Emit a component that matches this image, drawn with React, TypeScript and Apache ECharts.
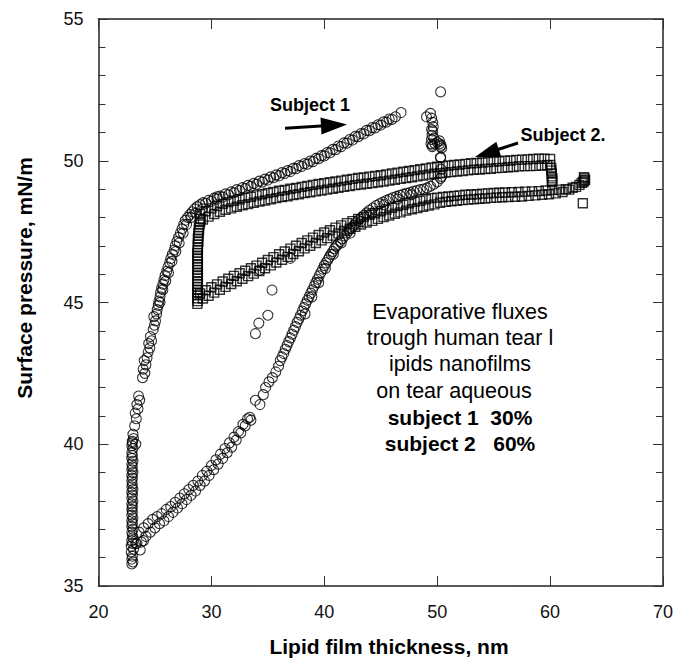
import React, { useEffect, useRef } from "react";
import * as echarts from "echarts";

// ---- Axis settings ----
const X_MIN = 20, X_MAX = 70, X_STEP = 10;
const Y_MIN = 35, Y_MAX = 55, Y_STEP = 5;
const X_TITLE = "Lipid film thickness, nm";
const Y_TITLE = "Surface pressure, mN/m";
const NOTE_LINES = ["Evaporative fluxes", "trough human tear l", "ipids nanofilms", "on tear aqueous"];
const NOTE_BOLD = ["subject 1  30%", "subject 2   60%"];
const LABEL_S1 = "Subject 1";
const LABEL_S2 = "Subject 2.";

// ---- Subject 1 (circles) ----
const s1Vertical = [
  [23.0,40.1],[22.95,39.95],[23.05,39.85],[22.95,39.7],[23.0,39.6],[22.95,39.5],[23.05,39.4],[22.95,39.3],[23.0,39.2],[22.95,39.1],
  [23.05,39.0],[22.95,38.9],[23.0,38.8],[22.95,38.7],[23.0,38.6],[22.95,38.5],[23.05,38.4],[22.95,38.3],[23.0,38.2],[22.95,38.1],
  [23.05,38.0],[22.95,37.9],[23.0,37.8],[22.95,37.7],[23.0,37.6],[22.95,37.5],[23.05,37.4],[22.95,37.3],[23.0,37.2],[22.95,37.1],
  [23.05,37.0],[22.95,36.9],[23.0,36.8],[23.05,36.7],[22.95,36.6],[23.0,36.5],[22.9,36.4],[23.1,36.3],[22.9,36.2],[23.0,36.05],
  [22.95,35.95],[23.05,35.85],[22.95,35.78],[23.4,36.5],[23.7,36.27],[23.98,36.6]
];
const s1Upper = [
  [23.0,40.05],[23.1,40.2],[23.3,40.0],[23.05,40.35],
  [23.2,40.65],[23.35,40.9],[23.25,41.1],[23.5,41.25],[23.4,41.4],[23.65,41.55],[23.55,41.7],
  [23.9,42.35],[24.1,42.5],[23.95,42.65],[24.2,42.8],[24.05,42.95],[24.3,43.05],
  [24.4,43.25],[24.55,43.4],[24.45,43.55],[24.7,43.65],[24.6,43.8],
  [24.85,44.05],[24.95,44.2],[25.05,44.35],[24.9,44.5],[25.15,44.6],
  [25.2,44.75],[25.3,44.9],[25.35,45.05],[25.45,45.2],[25.5,45.35],[25.6,45.5],[25.7,45.65],[25.8,45.8],[25.9,45.95],[26.05,46.1],
  [26.15,46.25],[26.3,46.4],[26.4,46.55],[26.55,46.7],[26.7,46.85],[26.8,47.0],[26.95,47.15],[27.1,47.3],[27.25,47.45],[27.4,47.6],
  [27.55,47.75],[27.7,47.9],[27.9,48.0],[28.1,48.1],[28.3,48.2],[28.5,48.3],[28.75,48.38],
  [25.45,45.0],[25.7,45.45],[25.95,45.75],[26.2,46.05],[26.5,46.45],[26.85,46.8],[27.15,47.1],[27.5,47.45],[27.8,47.75],[28.2,48.0],
  [28.6,48.15],[29.2,48.3],
  [29.0,48.45],[29.25,48.52],[29.5,48.5],[29.75,48.6],[30.0,48.57],[30.25,48.68],[30.5,48.65],[30.75,48.75],[31.0,48.72],[31.25,48.83],
  [31.5,48.8],[31.75,48.9],[32.0,48.87],[32.25,48.98],[32.5,48.95],[32.75,49.05],[33.0,49.02],[33.25,49.13],[33.5,49.1],[33.75,49.2],
  [34.0,49.17],[34.25,49.28],[34.5,49.25],[34.75,49.35],[35.0,49.32],[35.25,49.43],[35.5,49.4],[35.75,49.5],[36.0,49.47],[36.25,49.58],
  [36.5,49.55],[36.75,49.65],[37.0,49.62],[37.25,49.73],[37.5,49.72],[37.75,49.83],[38.0,49.8],[38.25,49.9],[38.5,49.88],[38.75,49.99],
  [39.0,49.97],[39.25,50.08],[39.5,50.07],[39.75,50.18],[40.0,50.17],[40.25,50.29],[40.5,50.28],[40.75,50.4],[41.0,50.39],[41.25,50.52],
  [41.5,50.5],[41.75,50.63],[42.0,50.62],[42.25,50.75],[42.5,50.73],[42.75,50.86],[43.0,50.85],[43.25,50.96],[43.5,50.95],[43.75,51.07],
  [44.0,51.06],[44.25,51.17],[44.5,51.16],[44.75,51.27],[45.0,51.26],[45.25,51.37],[45.5,51.36],[45.75,51.47],[46.0,51.46],[46.3,51.55],
  [46.8,51.7],[30.5,48.73]
];
const s1Lower = [
  [23.3,36.5],[23.6,36.9],[23.8,36.55],[24.0,37.05],[24.2,36.75],[24.4,37.2],[24.6,36.9],[24.8,37.35],[25.0,37.05],[25.2,37.45],
  [25.4,37.2],[25.6,37.55],[25.8,37.3],[26.0,37.7],[26.2,37.45],[26.4,37.8],[26.6,37.6],[26.8,37.95],[27.0,37.75],[27.2,38.1],
  [27.4,37.9],[27.6,38.25],[27.8,38.05],[28.0,38.4],[28.2,38.2],[28.4,38.55],[28.6,38.35],[28.8,38.7],[29.0,38.55],[29.2,38.9],
  [29.4,38.7],[29.6,39.05],[29.8,38.9],[30.0,39.25],[30.2,39.1],[30.4,39.45],[30.6,39.3],[30.8,39.65],[31.0,39.5],[31.2,39.85],
  [31.4,39.7],[31.6,40.05],[31.8,39.9],[32.0,40.25],[32.2,40.15],[32.4,40.45],[32.6,40.4],[32.8,40.7],[33.0,40.65],[33.2,40.9],
  [33.4,40.95],[33.5,40.85],
  [33.9,41.55],[34.3,41.4],[34.6,41.75],[34.8,42.0],[35.1,42.2],[35.4,42.35],[35.7,42.55],[35.95,42.75],
  [36.1,42.95],[36.25,43.08],[36.4,43.2],[36.55,43.35],[36.7,43.48],[36.85,43.62],[37.0,43.75],[37.15,43.88],[37.3,44.02],[37.45,44.15],
  [37.6,44.3],[37.75,44.42],[37.9,44.55],[38.05,44.7],[38.2,44.82],[38.35,44.95],[38.5,45.08],[38.65,45.2],[38.8,45.33],[38.95,45.45],
  [39.1,45.58],[39.25,45.7],[39.4,45.82],[39.55,45.94],[39.7,46.06],[39.85,46.18],[40.0,46.3],[40.15,46.4],[40.3,46.5],[40.45,46.6],
  [40.6,46.7],[40.75,46.8],[40.9,46.9],[41.05,46.98],[41.2,47.05],[41.4,47.15],[41.6,47.25],[41.8,47.35],[42.0,47.45],[42.2,47.55],
  [42.4,47.63],[42.6,47.72],[42.8,47.8],[43.0,47.9],[43.25,47.98],[43.5,48.07],[43.75,48.16],[44.0,48.25],[44.3,48.33],[44.6,48.42],
  [44.9,48.48],[45.2,48.54],[45.5,48.6],[45.8,48.65],[46.1,48.7],[46.4,48.74],[46.7,48.78],[47.0,48.82],[47.3,48.85],[47.6,48.88],
  [47.9,48.92],[48.2,48.95],[48.5,48.98],[48.8,49.0],[49.1,49.04],[49.4,49.1],[49.7,49.17],[50.0,49.25],[50.3,49.38],[50.4,49.45],
  [50.35,49.7],[50.3,50.1],
  [38.3,44.6],[38.9,45.2],[39.5,45.7],[40.1,46.2],[40.8,46.7],[41.5,47.1],[42.3,47.45],[43.2,47.85],[44.2,48.15],[45.3,48.45],
  [46.5,48.65],[47.7,48.8]
];
const s1Stray = [[33.9,43.9],[34.2,44.27],[35.0,44.55],[35.37,45.44],[34.3,46.14],[37.0,46.56]];
const s1Cluster = [
  [49.4,51.67],[49.5,51.5],[49.05,51.55],[49.6,51.35],[49.65,51.2],[49.6,51.05],[49.55,50.9],[49.5,50.75],[49.45,50.6],[49.6,50.55],
  [49.8,50.6],[50.0,50.65],[50.2,50.6],[50.3,50.5],[50.4,50.45],[50.2,50.7],[49.7,50.8],[50.3,50.12],[50.3,52.43],[49.5,51.1],
  [49.55,50.5],[50.35,50.55]
];

// ---- Subject 2 (squares) ----
const s2Vertical = [
  [28.75,44.95],[28.8,45.05],[28.75,45.15],[28.8,45.25],[28.75,45.35],[28.8,45.45],[28.75,45.55],[28.8,45.65],[28.75,45.75],[28.8,45.85],
  [28.75,45.95],[28.8,46.05],[28.75,46.15],[28.8,46.25],[28.75,46.35],[28.8,46.45],[28.75,46.55],[28.8,46.65],[28.75,46.75],[28.8,46.85],
  [28.8,46.95],[28.8,47.05],[28.85,47.15],[28.8,47.25],[28.85,47.35],[28.85,47.45],[28.9,47.55],[28.9,47.65],[28.95,47.75],[29.0,47.85],
  [29.05,47.95]
];
const s2Upper = [
  [29.0,48.12],[29.25,47.93],[29.5,48.22],[29.75,48.03],[30.0,48.32],[30.25,48.12],[30.5,48.4],[30.75,48.2],
  [31.0,48.48],[31.25,48.27],[31.5,48.54],[31.75,48.32],[32.0,48.59],[32.25,48.38],[32.5,48.64],[32.75,48.43],
  [33.0,48.69],[33.25,48.47],[33.5,48.73],[33.75,48.52],[34.0,48.78],[34.25,48.56],[34.5,48.82],[34.75,48.6],
  [35.0,48.86],[35.25,48.64],[35.5,48.9],[35.75,48.68],[36.0,48.94],[36.25,48.72],[36.5,48.97],[36.75,48.75],
  [37.0,49.01],[37.25,48.79],[37.5,49.04],[37.75,48.82],[38.0,49.08],[38.25,48.86],[38.5,49.11],[38.75,48.89],
  [39.0,49.15],[39.25,48.92],[39.5,49.18],[39.75,48.95],[40.0,49.21],[40.25,48.98],[40.5,49.24],[40.75,49.01],
  [41.0,49.27],[41.25,49.05],[41.5,49.3],[41.75,49.08],[42.0,49.33],[42.25,49.11],[42.5,49.36],[42.75,49.14],
  [43.0,49.39],[43.25,49.16],[43.5,49.41],[43.75,49.19],[44.0,49.44],[44.25,49.21],[44.5,49.46],[44.75,49.24],
  [45.0,49.49],[45.25,49.27],[45.5,49.52],[45.75,49.3],[46.0,49.55],[46.25,49.33],[46.5,49.58],[46.75,49.36],
  [47.0,49.61],[47.25,49.39],[47.5,49.64],[47.75,49.42],[48.0,49.67],[48.25,49.45],[48.5,49.7],[48.75,49.48],
  [49.0,49.73],[49.25,49.51],[49.5,49.76],[49.75,49.54],[50.0,49.79],[50.25,49.56],[50.5,49.81],[50.75,49.58],
  [51.0,49.83],[51.25,49.6],[51.5,49.85],[51.75,49.62],[52.0,49.87],[52.25,49.64],[52.5,49.89],[52.75,49.66],
  [53.0,49.91],[53.25,49.68],[53.5,49.92],[53.75,49.69],[54.0,49.94],[54.25,49.71],[54.5,49.95],[54.75,49.72],
  [55.0,49.97],[55.25,49.74],[55.5,49.98],[55.75,49.75],[56.0,50.0],[56.25,49.77],[56.5,50.01],[56.75,49.78],
  [57.0,50.03],[57.25,49.8],[57.5,50.04],[57.75,49.81],[58.0,50.05],[58.25,49.81],[58.5,50.06],[58.75,49.82],
  [59.0,50.07],[59.25,49.83],[59.5,50.07],[59.75,49.84],[60.0,50.06],[60.0,49.85]
];
const s2Drop = [[60.1,49.75],[60.1,49.65],[60.15,49.55],[60.15,49.45],[60.2,49.38],[60.2,49.3],[60.15,49.25]];
const s2Lower = [
  [29.0,45.32],[29.25,45.14],[29.5,45.43],[29.75,45.24],[30.0,45.54],[30.25,45.35],[30.5,45.64],[30.75,45.45],
  [31.0,45.74],[31.25,45.55],[31.5,45.84],[31.75,45.65],[32.0,45.94],[32.25,45.75],[32.5,46.03],[32.75,45.84],
  [33.0,46.12],[33.25,45.93],[33.5,46.21],[33.75,46.02],[34.0,46.3],[34.25,46.11],[34.5,46.4],[34.75,46.21],
  [35.0,46.5],[35.25,46.31],[35.5,46.6],[35.75,46.41],[36.0,46.7],[36.25,46.51],[36.5,46.8],[36.75,46.61],
  [37.0,46.9],[37.25,46.71],[37.5,47.0],[37.75,46.81],[38.0,47.1],[38.25,46.91],[38.5,47.19],[38.75,47.0],
  [39.0,47.29],[39.25,47.1],[39.5,47.38],[39.75,47.19],[40.0,47.47],[40.25,47.27],[40.5,47.55],[40.75,47.36],
  [41.0,47.64],[41.25,47.44],[41.5,47.72],[41.75,47.52],[42.0,47.8],[42.25,47.6],[42.5,47.87],[42.75,47.67],
  [43.0,47.95],[43.25,47.75],[43.5,48.02],[43.75,47.82],[44.0,48.09],[44.25,47.88],[44.5,48.15],[44.75,47.95],
  [45.0,48.22],[45.25,48.01],[45.5,48.28],[45.75,48.07],[46.0,48.34],[46.25,48.13],[46.5,48.4],[46.75,48.18],
  [47.0,48.45],[47.25,48.24],[47.5,48.5],[47.75,48.29],[48.0,48.55],[48.25,48.33],[48.5,48.59],[48.75,48.38],
  [49.0,48.64],[49.25,48.42],[49.5,48.68],[49.75,48.46],[50.0,48.7],[50.25,48.52],[50.5,48.72],[50.75,48.55],
  [51.0,48.74],[51.25,48.57],[51.5,48.76],[51.75,48.59],[52.0,48.78],[52.25,48.61],[52.5,48.8],[52.75,48.63],
  [53.0,48.81],[53.25,48.64],[53.5,48.82],[53.75,48.66],[54.0,48.84],[54.25,48.67],[54.5,48.85],[54.75,48.69],
  [55.0,48.86],[55.25,48.7],[55.5,48.87],[55.75,48.71],[56.0,48.88],[56.3,48.72],[56.6,48.89],[56.9,48.73],
  [57.2,48.9],[57.5,48.74],[57.8,48.91],[58.1,48.76],[58.4,48.92],[58.7,48.78],[59.0,48.93],[59.3,48.8],
  [59.6,48.95],[59.9,48.82],[60.2,48.97],[60.5,48.85],[60.8,48.98],[61.1,48.9],[61.4,49.0],[61.7,48.98],
  [62.0,49.05],[62.3,49.08],[62.6,49.15],[62.8,49.22]
];
const s2End = [[63.0,49.3],[63.05,49.38],[62.95,49.25],[63.1,49.32],[63.0,49.42],[62.9,48.5]];

const FONT = "'Liberation Sans', Arial, Helvetica, sans-serif";

export default function App() {
  const ref = useRef<HTMLDivElement>(null);
  useEffect(() => {
    if (!ref.current) return;
    const chart = echarts.init(ref.current, null, { renderer: "svg" });
    const axisLine = { show: true, lineStyle: { color: "#222", width: 1.5 } };
    const xBase = {
      type: "value", min: X_MIN, max: X_MAX, interval: X_STEP,
      axisLine, splitLine: { show: false },
      axisTick: { show: true, inside: true, length: 10, lineStyle: { color: "#333", width: 1 } },
    };
    const yBase = {
      type: "value", min: Y_MIN, max: Y_MAX, interval: Y_STEP,
      axisLine, splitLine: { show: false },
      axisTick: { show: true, inside: true, length: 10, lineStyle: { color: "#333", width: 1 } },
      minorTick: { show: true, splitNumber: 5, length: 7, lineStyle: { color: "#333", width: 1 } },
    };
    const circleStyle = { color: "rgba(0,0,0,0)", borderColor: "#000", borderWidth: 1.1 };
    const squareStyle = { color: "rgba(0,0,0,0)", borderColor: "#000", borderWidth: 1.4 };
    const noteText = [
      ...NOTE_LINES.map((t, i) => ({
        type: "text", x: i === 3 ? 454 : 460, y: 312 + i * 26.2,
        style: { text: t, font: `21.5px ${FONT}`, fill: "#000", align: "center", verticalAlign: "middle" },
      })),
      ...NOTE_BOLD.map((t, i) => ({
        type: "text", x: 460, y: 417 + i * 26,
        style: { text: t, font: `bold 21px ${FONT}`, fill: "#000", align: "center", verticalAlign: "middle" },
      })),
    ];
    chart.setOption({
      animation: false,
      grid: { left: 98.5, right: 12.3, top: 19, bottom: 73, containLabel: false },
      xAxis: [
        { ...xBase, position: "bottom",
          axisLabel: { show: true, margin: 17, fontSize: 18, color: "#111", fontFamily: FONT } },
        { ...xBase, position: "top", axisLabel: { show: false } },
      ],
      yAxis: [
        { ...yBase, position: "left",
          axisLabel: { show: true, margin: 15, fontSize: 18, color: "#111", fontFamily: FONT } },
        { ...yBase, position: "right", axisLabel: { show: false } },
      ],
      series: [
        {
          name: "Subject 2", type: "scatter", symbol: "rect", symbolSize: 9,
          itemStyle: squareStyle, xAxisIndex: 0, yAxisIndex: 0,
          data: [...s2Vertical, ...s2Upper, ...s2Drop, ...s2Lower, ...s2End],
        },
        {
          name: "Subject 1", type: "scatter", symbol: "circle", symbolSize: 10,
          itemStyle: circleStyle, xAxisIndex: 0, yAxisIndex: 0,
          data: [...s1Vertical, ...s1Upper, ...s1Lower, ...s1Stray, ...s1Cluster],
        },
      ],
      graphic: [
        { type: "text", x: 389, y: 646,
          style: { text: X_TITLE, font: `bold 21px ${FONT}`, fill: "#000", align: "center", verticalAlign: "middle" } },
        { type: "text", x: 24, y: 278, rotation: Math.PI / 2,
          style: { text: Y_TITLE, font: `bold 21px ${FONT}`, fill: "#000", align: "center", verticalAlign: "middle" } },
        { type: "text", x: 310, y: 105,
          style: { text: LABEL_S1, font: `bold 18px ${FONT}`, fill: "#000", align: "center", verticalAlign: "middle" } },
        { type: "text", x: 563, y: 135,
          style: { text: LABEL_S2, font: `bold 18px ${FONT}`, fill: "#000", align: "center", verticalAlign: "middle" } },
        { type: "line", shape: { x1: 285, y1: 128.3, x2: 325, y2: 125.8 }, style: { stroke: "#000", lineWidth: 3 } },
        { type: "polygon", shape: { points: [[347, 124.4], [320.5, 117.6], [321.5, 134.6]] }, style: { fill: "#000" } },
        { type: "line", shape: { x1: 518, y1: 143, x2: 494, y2: 150.8 }, style: { stroke: "#000", lineWidth: 3 } },
        { type: "polygon", shape: { points: [[475, 157], [496.3, 141.7], [501.3, 156.9]] }, style: { fill: "#000" } },
        ...noteText,
      ],
    });
    return () => chart.dispose();
  }, []);
  return (
    <div
      ref={ref}
      style={{ position: "absolute", left: 0, top: 0, width: 676, height: 659, background: "#fff" }}
    />
  );
}
